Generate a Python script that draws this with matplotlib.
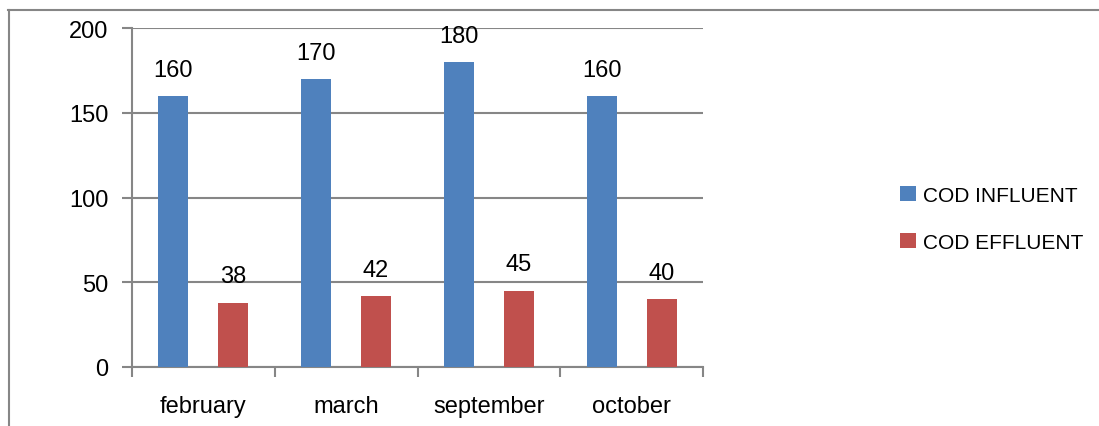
import matplotlib
matplotlib.use("Agg")
import matplotlib.pyplot as plt
import numpy as np

months = ["february", "march", "september", "october"]
influent = [160, 170, 180, 160]
effluent = [38, 42, 45, 40]
yticks = [0, 50, 100, 150, 200]

blue = "#4f81bd"
red = "#c0504d"
grey = "#868686"

plt.rcParams["font.family"] = ["Liberation Sans Narrow", "Liberation Sans", "DejaVu Sans"]

fig = plt.figure(figsize=(10.99, 4.27), dpi=100)
W, H = 1099, 427
ax = fig.add_axes([132 / W, 1 - 368 / H, (703 - 132) / W, (368 - 29) / H])

x = np.arange(len(months))
w = 0.21
b1 = ax.bar(x - w, influent, w, color=blue, label="COD INFLUENT", zorder=3)
b2 = ax.bar(x + w, effluent, w, color=red, label="COD EFFLUENT", zorder=3)

for bars, vals in ((b1, influent), (b2, effluent)):
    for r, v in zip(bars, vals):
        ax.text(r.get_x() + r.get_width() / 2, v + 9, str(v), ha="center",
                va="bottom", fontsize=17)

ax.set_xlim(-0.5, len(months) - 0.5)
ax.set_ylim(0, 200)
ax.set_yticks(yticks)
ax.set_yticklabels([str(t) for t in yticks], fontsize=17)
ax.yaxis.grid(True, color=grey, linewidth=1.5, zorder=0)

ax.set_xticks(x)
ax.set_xticklabels(months, fontsize=17)
ax.tick_params(axis="x", length=0, pad=20)
ax.set_xticks(np.arange(len(months) + 1) - 0.5, minor=True)
ax.tick_params(axis="x", which="minor", length=7, width=1.5, color=grey)
ax.tick_params(axis="y", length=7, width=1.5, color=grey, pad=10)

for s in ["top", "right"]:
    ax.spines[s].set_visible(False)
for s in ["left", "bottom"]:
    ax.spines[s].set_color(grey)
    ax.spines[s].set_linewidth(1.5)

leg = fig.legend(loc="center left", bbox_to_anchor=(900 / W, 1 - 220 / H),
                 frameon=False, fontsize=15, handlelength=0.75, handleheight=0.75,
                 handletextpad=0.35, labelspacing=1.35, borderpad=0,
                 borderaxespad=0)

# outer chart frame (only top and left edges visible)
fig.add_artist(plt.Line2D([8 / W, 1], [1 - 10.5 / H, 1 - 10.5 / H], color=grey,
                          linewidth=1.5, transform=fig.transFigure))
fig.add_artist(plt.Line2D([8.5 / W, 8.5 / W], [0, 1 - 10.5 / H], color=grey,
                          linewidth=1.5, transform=fig.transFigure))

fig.savefig("out.png", dpi=100)
